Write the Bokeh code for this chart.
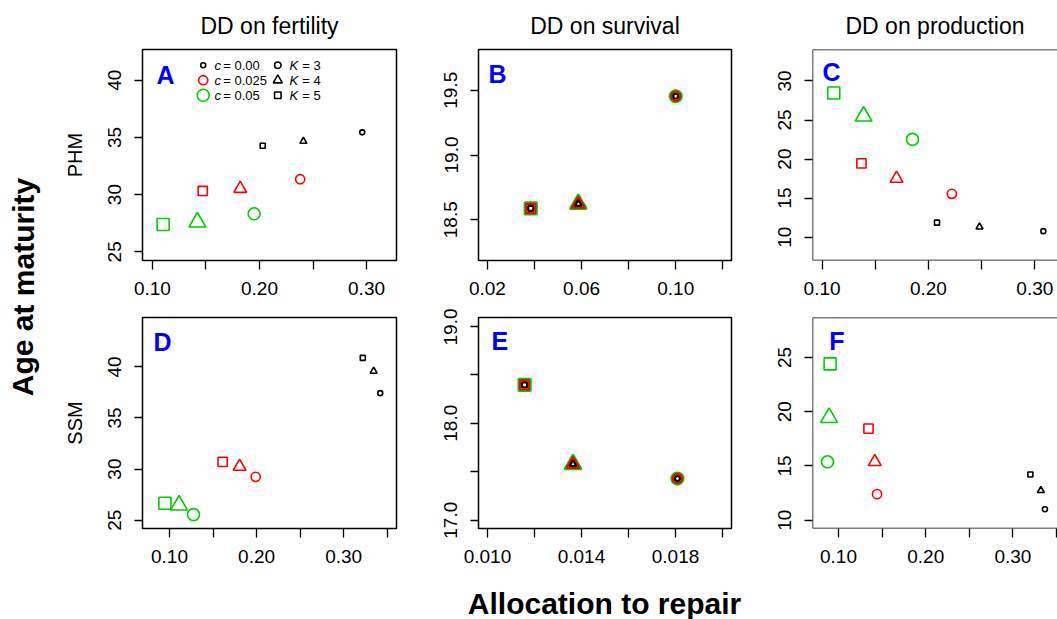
from bokeh.plotting import figure
from bokeh.models import ColumnDataSource, FixedTicker, NumeralTickFormatter, Label, Range1d, Span
from bokeh.layouts import row, column
from bokeh.embed import file_html
from bokeh.resources import INLINE

FONT = "Liberation Sans"

# ---------------- data (order: c = 0.00, 0.025, 0.05; within each K = 3, 4, 5) -------------
point_c = ["0.00", "0.00", "0.00", "0.025", "0.025", "0.025", "0.05", "0.05", "0.05"]
point_K = [3, 4, 5, 3, 4, 5, 3, 4, 5]

# DD on fertility, PHM (panel A)
fert_phm_x = [0.296, 0.241, 0.203, 0.238, 0.182, 0.147, 0.195, 0.142, 0.110]
fert_phm_y = [35.44, 34.66, 34.27, 31.34, 30.52, 30.32, 28.32, 27.59, 27.38]
# DD on survival, PHM (panel B) - identical for every c
surv_phm_x = [0.100, 0.0586, 0.0384, 0.100, 0.0586, 0.0384, 0.100, 0.0586, 0.0384]
surv_phm_y = [19.454, 18.622, 18.587, 19.454, 18.622, 18.587, 19.454, 18.622, 18.587]
# DD on production, PHM (panel C)
prod_phm_x = [0.308, 0.248, 0.208, 0.222, 0.170, 0.137, 0.185, 0.139, 0.111]
prod_phm_y = [10.77, 11.30, 11.86, 15.55, 17.50, 19.45, 22.52, 25.49, 28.46]
# DD on fertility, SSM (panel D)
fert_ssm_x = [0.342, 0.3345, 0.322, 0.199, 0.1805, 0.161, 0.1276, 0.111, 0.0947]
fert_ssm_y = [37.43, 39.58, 40.88, 29.24, 30.25, 30.71, 25.55, 26.47, 26.66]
# DD on survival, SSM (panel E)
surv_ssm_x = [0.01808, 0.01364, 0.01158, 0.01808, 0.01364, 0.01158, 0.01808, 0.01364, 0.01158]
surv_ssm_y = [17.43, 17.578, 18.395, 17.43, 17.578, 18.395, 17.43, 17.578, 18.395]
# DD on production, SSM (panel F)
prod_ssm_x = [0.3367, 0.332, 0.320, 0.1442, 0.1416, 0.1344, 0.0874, 0.0892, 0.0904]
prod_ssm_y = [11.01, 12.73, 14.21, 12.40, 15.38, 18.44, 15.38, 19.46, 24.41]

col_titles = ["DD on fertility", "DD on survival", "DD on production"]
row_labels = ["PHM", "SSM"]
panel_letters = ["A", "B", "C", "D", "E", "F"]
legend_c = ["0.00", "0.025", "0.05"]
legend_K = [3, 4, 5]

# tick positions
ticks_x_a = [0.10, 0.20, 0.30]; minor_x_a = [0.15, 0.25]
ticks_x_b = [0.02, 0.06, 0.10]; minor_x_b = [0.04, 0.08, 0.12]
ticks_x_d = [0.10, 0.20, 0.30]; minor_x_d = [0.15, 0.25, 0.35]
ticks_x_e = [0.010, 0.014, 0.018]; minor_x_e = [0.012, 0.016, 0.020]
ticks_y_a = [25, 30, 35, 40]
ticks_y_b = [18.5, 19.0, 19.5]
ticks_y_c = [10, 15, 20, 25, 30]
ticks_y_e = [17.0, 18.0, 19.0]; minor_y_e = [17.5, 18.5]
ticks_y_f = [10, 15, 20, 25]

# ---------------- styles ----------------
C_COLOR = {"0.00": "black", "0.025": "#FF0000", "0.05": "#00CD00"}
C_SIZE = {"0.00": 5.0, "0.025": 9.2, "0.05": 12.0}
K_MARKER = {3: "circle", 4: "triangle", 5: "square"}
K_SCALE = {3: 1.0, 4: 1.4, 5: 1.0}

FH = 211
TOP_BT, TOP_BB = 49, 48
BOT_BT, BOT_BB = 9, 48
TOP_H = TOP_BT + FH + TOP_BB      # 308
BOT_H = BOT_BT + FH + BOT_BB      # 268
PAGE_H = 619


def style_axis(ax, tick_out, standoff):
    ax.axis_line_color = None
    for kind in ("major", "minor"):
        setattr(ax, kind + "_tick_line_color", "black")
        setattr(ax, kind + "_tick_line_width", 1.3)
        setattr(ax, kind + "_tick_out", tick_out)
        setattr(ax, kind + "_tick_in", 0)
    ax.major_label_text_font = FONT
    ax.major_label_text_font_size = "19px"
    ax.major_label_text_color = "black"
    ax.major_label_standoff = standoff


def make_panel(xs, ys, xr, yr, xt, xm, yt, ym, xfmt, yfmt, fw, bl, br, bt, bb, h,
               letter, loff, title=None, ylabel=None, lw=1.6, open_right=False):
    p = figure(frame_width=fw, height=h,
               x_range=Range1d(xr[0], xr[1]), y_range=Range1d(yr[0], yr[1]),
               output_backend="svg", toolbar_location=None,
               min_border_left=bl, min_border_right=br,
               min_border_top=bt, min_border_bottom=bb)
    p.grid.visible = False
    p.background_fill_color = "white"
    p.border_fill_color = "white"
    if open_right:
        # panel runs off the right edge of the picture: box drawn on three sides only
        p.outline_line_color = None
        p.add_layout(Span(location=yr[0], dimension="width", line_color="black", line_width=1.5))
        p.add_layout(Span(location=yr[1], dimension="width", line_color="black", line_width=1.5))
        p.add_layout(Span(location=xr[0], dimension="height", line_color="black", line_width=1.5))
    else:
        p.outline_line_color = "black"
        p.outline_line_width = 1.5
    style_axis(p.xaxis[0], 9, 12)
    style_axis(p.yaxis[0], 8, 13)
    p.xaxis.ticker = FixedTicker(ticks=xt, minor_ticks=xm)
    p.yaxis.ticker = FixedTicker(ticks=yt, minor_ticks=ym)
    p.xaxis.formatter = NumeralTickFormatter(format=xfmt)
    p.yaxis.formatter = NumeralTickFormatter(format=yfmt)
    p.yaxis.major_label_orientation = "vertical"
    if title:
        p.title.text = title
        p.title.align = "center"
        p.title.text_font = FONT
        p.title.text_font_size = "23px"
        p.title.text_font_style = "normal"
        p.title.text_color = "black"
        p.title.standoff = 21
    else:
        p.title.visible = False
    if ylabel:
        p.yaxis.axis_label = ylabel
        p.yaxis.axis_label_text_font = FONT
        p.yaxis.axis_label_text_font_size = "20px"
        p.yaxis.axis_label_text_font_style = "normal"
        p.yaxis.axis_label_text_color = "black"
        p.yaxis.axis_label_standoff = 20
    # draw the largest (c = 0.05) first so smaller ones sit on top
    for c in ["0.05", "0.025", "0.00"]:
        for K in [3, 4, 5]:
            idx = [i for i in range(len(xs)) if point_c[i] == c and point_K[i] == K]
            src = ColumnDataSource(dict(x=[xs[i] for i in idx], y=[ys[i] for i in idx]))
            p.scatter("x", "y", source=src, marker=K_MARKER[K], size=C_SIZE[c] * K_SCALE[K],
                      fill_color=None, line_color=C_COLOR[c], line_width=lw)
    lx = xr[0] + loff[0] / fw * (xr[1] - xr[0])
    ly = yr[1] - loff[1] / FH * (yr[1] - yr[0])
    p.add_layout(Label(x=lx, y=ly, text=letter, text_align="center", text_baseline="middle",
                       text_color="#0000FF", text_font=FONT, text_font_style="bold",
                       text_font_size="25px"))
    return p


def frac_xy(xr, yr, fw, dx, dy):
    return (xr[0] + dx / fw * (xr[1] - xr[0]), yr[1] - dy / FH * (yr[1] - yr[0]))


# ---------------- panels ----------------
xr_A, yr_A = (0.0907, 0.328), (24.24, 42.68)
pA = make_panel(fert_phm_x, fert_phm_y, xr_A, yr_A, ticks_x_a, minor_x_a, ticks_y_a, [],
                "0.00", "0", 254, 84, 41, TOP_BT, TOP_BB, TOP_H, panel_letters[0], (23, 25.4),
                title=col_titles[0], ylabel=row_labels[0])
pB = make_panel(surv_phm_x, surv_phm_y, (0.0162, 0.1237), (18.185, 19.815), ticks_x_b, minor_x_b,
                ticks_y_b, [], "0.00", "0.0", 253, 41, 41, TOP_BT, TOP_BB, TOP_H, panel_letters[1],
                (19, 24), title=col_titles[1], lw=2.2)
pC = make_panel(prod_phm_x, prod_phm_y, (0.091, 0.3213), (7.01, 34.03), ticks_x_a, minor_x_a,
                ticks_y_c, [], "0.00", "0", 245, 40, 0, TOP_BT, TOP_BB, TOP_H, panel_letters[2],
                (19, 22.4), title=col_titles[2], open_right=True)
pD = make_panel(fert_ssm_x, fert_ssm_y, (0.069, 0.3607), (24.19, 44.83), ticks_x_d, minor_x_d,
                ticks_y_a, [], "0.00", "0", 254, 84, 41, BOT_BT, BOT_BB, BOT_H, panel_letters[3],
                (20, 24.4), ylabel=row_labels[1])
pE = make_panel(surv_ssm_x, surv_ssm_y, (0.00962, 0.02038), (16.915, 19.09), ticks_x_e, minor_x_e,
                ticks_y_e, minor_y_e, "0.000", "0.0", 253, 41, 41, BOT_BT, BOT_BB, BOT_H,
                panel_letters[4], (21.3, 23.4), lw=2.2)
pF = make_panel(prod_ssm_x, prod_ssm_y, (0.0702, 0.3511), (9.23, 28.69), ticks_x_d, minor_x_d,
                ticks_y_f, [], "0.00", "0", 245, 40, 0, BOT_BT, BOT_BB, BOT_H, panel_letters[5],
                (24.3, 23.4), open_right=True)

# ---------------- legend in panel A ----------------
row_dy = [15.7, 30.7, 45.7]
for i, c in enumerate(legend_c):
    mx, my = frac_xy(xr_A, yr_A, 254, 60.7, row_dy[i])
    pA.scatter(x=[mx], y=[my], marker="circle", size=C_SIZE[c], fill_color=None,
               line_color=C_COLOR[c], line_width=1.6)
    tx, ty = frac_xy(xr_A, yr_A, 254, 72, row_dy[i])
    pA.add_layout(Label(x=tx, y=ty, text="c", text_font=FONT, text_font_style="italic",
                        text_font_size="13px", text_baseline="middle", text_color="black"))
    tx2, _ = frac_xy(xr_A, yr_A, 254, 80.7, row_dy[i])
    pA.add_layout(Label(x=tx2, y=ty, text="= " + c, text_font=FONT, text_font_size="13px",
                        text_baseline="middle", text_color="black"))
for i, K in enumerate(legend_K):
    mx, my = frac_xy(xr_A, yr_A, 254, 135.3, row_dy[i])
    pA.scatter(x=[mx], y=[my], marker=K_MARKER[K], size=6.5 * K_SCALE[K], fill_color=None,
               line_color="black", line_width=1.6)
    tx, ty = frac_xy(xr_A, yr_A, 254, 147, row_dy[i])
    pA.add_layout(Label(x=tx, y=ty, text="K", text_font=FONT, text_font_style="italic",
                        text_font_size="13px", text_baseline="middle", text_color="black"))
    tx2, _ = frac_xy(xr_A, yr_A, 254, 159.7, row_dy[i])
    pA.add_layout(Label(x=tx2, y=ty, text="= %d" % K, text_font=FONT, text_font_size="13px",
                        text_baseline="middle", text_color="black"))

# ---------------- outer labels ----------------
ROWS_H = TOP_H + BOT_H          # 576
X_H = PAGE_H - ROWS_H           # 43
L_W = 58


def blank(w, h):
    q = figure(width=w, height=h, x_range=Range1d(0, 1), y_range=Range1d(0, 1),
               output_backend="svg", toolbar_location=None, min_border=0)
    q.axis.visible = False
    q.grid.visible = False
    q.outline_line_color = None
    q.title.visible = False
    return q


pL = blank(L_W, ROWS_H)
pL.add_layout(Label(x=22.5 / L_W, y=1 - 286.5 / ROWS_H, text="Age at maturity", angle=1.5707963,
                    text_align="center", text_baseline="middle", text_font=FONT,
                    text_font_style="bold", text_font_size="30px", text_color="black"))

TOTAL_W = L_W + 379 + 335 + 285   # 1057
pX = blank(TOTAL_W, X_H)
pX.add_layout(Label(x=604 / TOTAL_W, y=1 - (602.5 - ROWS_H) / X_H, text="Allocation to repair",
                    text_align="center", text_baseline="middle", text_font=FONT,
                    text_font_style="bold", text_font_size="30px", text_color="black"))

grid = column(row(pA, pB, pC), row(pD, pE, pF))
layout = column(row(pL, grid), pX)

open("out.html", "w").write(file_html(layout, INLINE))
